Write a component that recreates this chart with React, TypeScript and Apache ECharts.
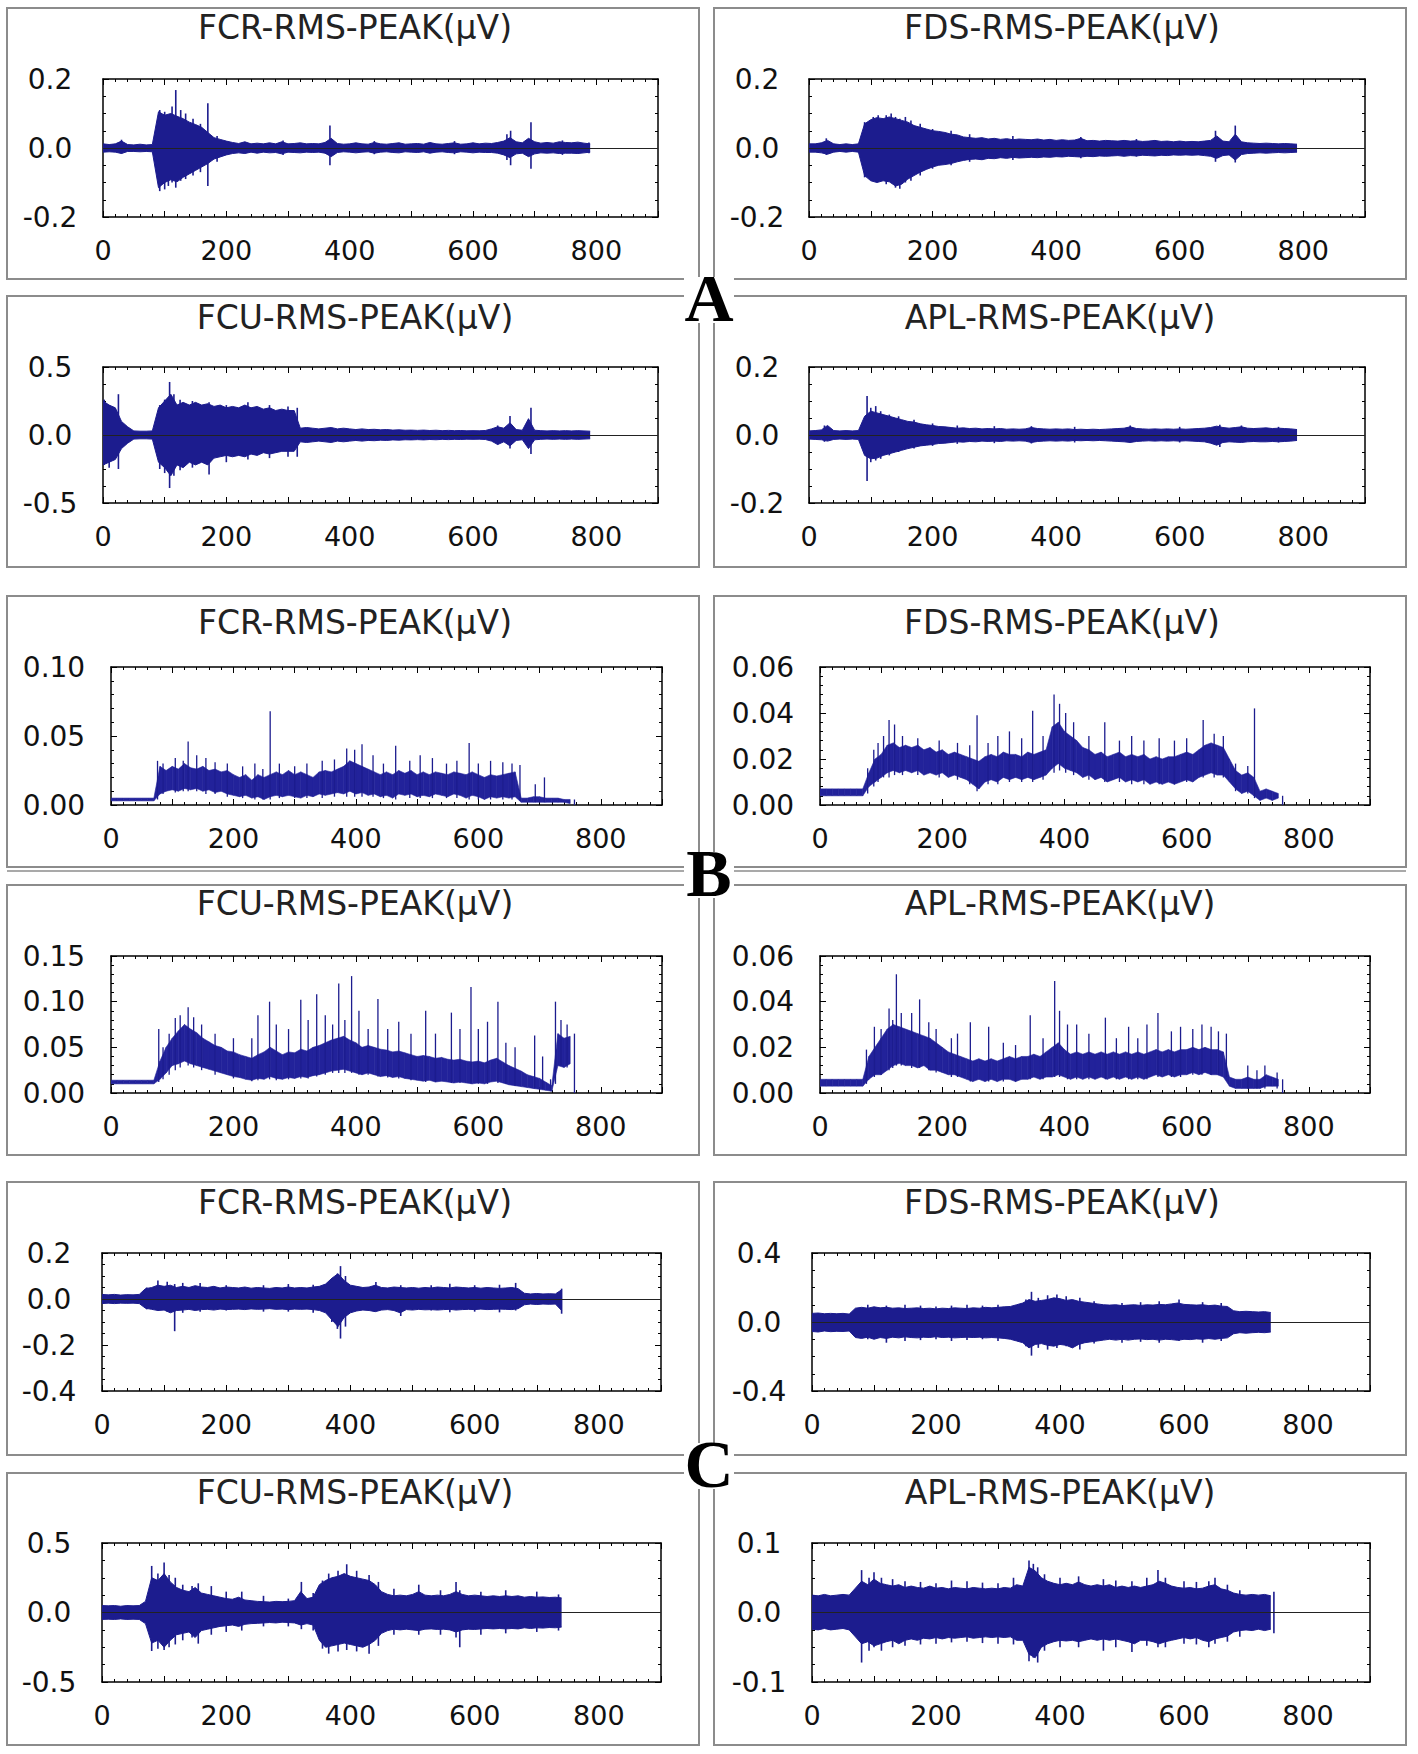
import React, { useEffect, useRef } from 'react';
import * as echarts from 'echarts';

const STEP = 10;
const X_MAX = 900;
const NAVY = '#1c1c8e';

const TITLES = ['FCR-RMS-PEAK(μV)', 'FDS-RMS-PEAK(μV)', 'FCU-RMS-PEAK(μV)', 'APL-RMS-PEAK(μV)'];
const GROUP_LETTERS = ['A', 'B', 'C'];
const X_TICK_LABELS = [0, 200, 400, 600, 800];

// ---- A : FCR ----
const FCR_A_UP = [0.012,0.010,0.012,0.020,0.010,0.009,0.011,0.009,0.010,0.105,0.095,0.100,0.092,0.085,0.075,0.068,0.060,0.045,0.030,0.025,0.020,0.016,0.013,0.018,0.012,0.014,0.012,0.015,0.012,0.018,0.012,0.013,0.015,0.012,0.013,0.012,0.016,0.028,0.013,0.011,0.012,0.015,0.012,0.011,0.016,0.012,0.011,0.013,0.015,0.011,0.012,0.013,0.011,0.016,0.012,0.011,0.013,0.015,0.011,0.012,0.015,0.012,0.014,0.013,0.016,0.020,0.030,0.018,0.015,0.028,0.018,0.014,0.016,0.014,0.018,0.016,0.015,0.017,0.014,0.012];
const FCR_A_LO = [-0.012,-0.011,-0.012,-0.016,-0.010,-0.010,-0.011,-0.010,-0.011,-0.115,-0.100,-0.092,-0.098,-0.085,-0.075,-0.065,-0.055,-0.045,-0.032,-0.026,-0.020,-0.016,-0.014,-0.016,-0.012,-0.015,-0.012,-0.014,-0.013,-0.017,-0.012,-0.013,-0.014,-0.012,-0.013,-0.012,-0.015,-0.025,-0.013,-0.011,-0.012,-0.014,-0.012,-0.011,-0.015,-0.012,-0.011,-0.013,-0.014,-0.011,-0.012,-0.013,-0.011,-0.015,-0.012,-0.011,-0.013,-0.014,-0.011,-0.012,-0.014,-0.012,-0.013,-0.013,-0.015,-0.020,-0.028,-0.017,-0.015,-0.025,-0.017,-0.014,-0.015,-0.014,-0.016,-0.015,-0.015,-0.016,-0.014,-0.012];
const FCR_A_SPK = [[30,-0.016,0.024],[92,-0.125,0.11],[100,-0.12,0.105],[106,-0.11,0.095],[112,-0.10,0.12],[118,-0.115,0.168],[126,-0.095,0.11],[134,-0.09,0.10],[146,-0.08,0.085],[158,-0.07,0.07],[170,-0.11,0.13],[185,-0.04,0.035],[292,-0.02,0.022],[368,-0.05,0.065],[440,-0.018,0.02],[570,-0.018,0.02],[655,-0.035,0.04],[661,-0.05,0.05],[694,-0.06,0.075],[745,-0.02,0.022],[788,-0.015,0.016]];

// ---- A : FDS ----
const FDS_A_UP = [0.012,0.012,0.015,0.022,0.012,0.010,0.012,0.010,0.012,0.070,0.082,0.088,0.085,0.090,0.085,0.080,0.075,0.065,0.060,0.055,0.050,0.048,0.045,0.040,0.038,0.032,0.030,0.028,0.030,0.026,0.028,0.025,0.027,0.024,0.026,0.025,0.024,0.026,0.023,0.025,0.022,0.024,0.022,0.023,0.028,0.021,0.022,0.020,0.022,0.021,0.020,0.022,0.020,0.021,0.019,0.020,0.022,0.019,0.020,0.018,0.020,0.018,0.019,0.018,0.020,0.022,0.035,0.020,0.018,0.040,0.018,0.015,0.014,0.013,0.014,0.013,0.012,0.013,0.012,0.011];
const FDS_A_LO = [-0.012,-0.012,-0.014,-0.018,-0.012,-0.010,-0.012,-0.010,-0.012,-0.080,-0.095,-0.100,-0.095,-0.098,-0.110,-0.105,-0.090,-0.080,-0.070,-0.062,-0.055,-0.050,-0.048,-0.045,-0.040,-0.036,-0.033,-0.032,-0.034,-0.030,-0.031,-0.028,-0.030,-0.027,-0.029,-0.028,-0.027,-0.028,-0.026,-0.027,-0.025,-0.026,-0.024,-0.025,-0.026,-0.024,-0.025,-0.023,-0.024,-0.023,-0.022,-0.024,-0.022,-0.023,-0.021,-0.022,-0.023,-0.021,-0.022,-0.020,-0.021,-0.020,-0.021,-0.020,-0.022,-0.024,-0.030,-0.022,-0.020,-0.035,-0.019,-0.016,-0.015,-0.014,-0.015,-0.014,-0.013,-0.014,-0.013,-0.012];
const FDS_A_SPK = [[28,-0.02,0.028],[90,-0.085,0.075],[104,-0.09,0.09],[112,-0.09,0.095],[125,-0.105,0.095],[133,-0.095,0.1],[140,-0.115,0.09],[147,-0.118,0.085],[156,-0.1,0.09],[165,-0.095,0.08],[180,-0.08,0.07],[200,-0.06,0.055],[230,-0.05,0.05],[260,-0.04,0.04],[330,-0.035,0.035],[440,-0.03,0.032],[530,-0.025,0.026],[658,-0.04,0.05],[690,-0.042,0.065]];

// ---- A : FCU ----
const FCU_A_UP = [0.25,0.22,0.20,0.10,0.06,0.030,0.028,0.028,0.030,0.20,0.25,0.30,0.22,0.24,0.22,0.24,0.22,0.23,0.21,0.22,0.20,0.21,0.20,0.22,0.20,0.21,0.19,0.20,0.18,0.19,0.18,0.18,0.05,0.055,0.05,0.045,0.05,0.055,0.045,0.05,0.045,0.04,0.045,0.04,0.042,0.038,0.04,0.036,0.038,0.035,0.036,0.034,0.036,0.033,0.035,0.032,0.034,0.032,0.033,0.031,0.032,0.031,0.033,0.045,0.06,0.05,0.09,0.04,0.035,0.12,0.035,0.032,0.030,0.032,0.030,0.032,0.030,0.032,0.030,0.028];
const FCU_A_LO = [-0.22,-0.20,-0.18,-0.10,-0.06,-0.030,-0.028,-0.028,-0.030,-0.20,-0.24,-0.30,-0.22,-0.24,-0.20,-0.22,-0.20,-0.22,-0.17,-0.16,-0.15,-0.16,-0.15,-0.16,-0.14,-0.15,-0.13,-0.14,-0.13,-0.12,-0.12,-0.12,-0.05,-0.055,-0.05,-0.045,-0.05,-0.055,-0.045,-0.05,-0.045,-0.04,-0.045,-0.04,-0.042,-0.038,-0.04,-0.036,-0.038,-0.035,-0.036,-0.034,-0.036,-0.033,-0.035,-0.032,-0.034,-0.032,-0.033,-0.031,-0.032,-0.031,-0.033,-0.045,-0.07,-0.05,-0.08,-0.04,-0.035,-0.10,-0.035,-0.032,-0.030,-0.032,-0.030,-0.032,-0.030,-0.032,-0.030,-0.028];
const FCU_A_SPK = [[2,-0.22,0.26],[10,-0.24,0.22],[25,-0.25,0.30],[92,-0.25,0.22],[100,-0.28,0.26],[108,-0.39,0.39],[115,-0.30,0.30],[125,-0.26,0.26],[145,-0.24,0.25],[172,-0.29,0.24],[200,-0.20,0.22],[235,-0.18,0.24],[270,-0.17,0.22],[300,-0.16,0.21],[315,-0.16,0.20],[640,-0.07,0.07],[660,-0.10,0.14],[694,-0.14,0.20]];

// ---- A : APL ----
const APL_A_UP = [0.012,0.013,0.015,0.028,0.013,0.012,0.013,0.012,0.013,0.055,0.070,0.065,0.060,0.055,0.050,0.045,0.040,0.038,0.033,0.030,0.028,0.025,0.024,0.022,0.020,0.021,0.019,0.020,0.018,0.019,0.018,0.019,0.017,0.018,0.017,0.018,0.022,0.019,0.018,0.017,0.018,0.017,0.018,0.016,0.017,0.016,0.017,0.016,0.017,0.018,0.019,0.020,0.024,0.019,0.018,0.017,0.018,0.017,0.018,0.017,0.018,0.017,0.018,0.019,0.020,0.022,0.026,0.022,0.020,0.022,0.024,0.020,0.019,0.020,0.021,0.019,0.020,0.019,0.018,0.016];
const APL_A_LO = [-0.012,-0.013,-0.014,-0.018,-0.013,-0.012,-0.013,-0.012,-0.013,-0.060,-0.070,-0.068,-0.060,-0.055,-0.050,-0.045,-0.040,-0.036,-0.032,-0.030,-0.028,-0.025,-0.024,-0.022,-0.020,-0.021,-0.019,-0.020,-0.018,-0.019,-0.018,-0.019,-0.017,-0.018,-0.017,-0.018,-0.022,-0.019,-0.018,-0.017,-0.018,-0.017,-0.018,-0.016,-0.017,-0.016,-0.017,-0.016,-0.017,-0.018,-0.019,-0.020,-0.022,-0.019,-0.018,-0.017,-0.018,-0.017,-0.018,-0.017,-0.018,-0.017,-0.018,-0.019,-0.020,-0.024,-0.030,-0.022,-0.020,-0.021,-0.022,-0.020,-0.019,-0.020,-0.020,-0.019,-0.020,-0.019,-0.018,-0.016];
const APL_A_SPK = [[25,-0.02,0.028],[94,-0.135,0.115],[100,-0.08,0.08],[108,-0.075,0.085],[116,-0.07,0.07],[130,-0.06,0.06],[145,-0.05,0.055],[170,-0.04,0.045],[200,-0.032,0.034],[240,-0.026,0.028],[300,-0.024,0.026],[360,-0.025,0.026],[430,-0.022,0.024],[520,-0.022,0.028],[600,-0.022,0.024],[665,-0.035,0.03],[700,-0.02,0.028],[760,-0.022,0.024]];

// ---- B : FCR ----
const FCR_B_LO = [0.003,0.003,0.003,0.003,0.003,0.003,0.003,0.003,0.008,0.010,0.011,0.010,0.012,0.011,0.012,0.010,0.011,0.009,0.010,0.008,0.007,0.006,0.007,0.005,0.006,0.004,0.006,0.007,0.006,0.007,0.006,0.005,0.007,0.006,0.008,0.007,0.008,0.009,0.008,0.010,0.008,0.009,0.007,0.008,0.006,0.007,0.005,0.008,0.007,0.008,0.006,0.007,0.006,0.008,0.007,0.006,0.008,0.007,0.005,0.007,0.006,0.004,0.006,0.005,0.006,0.005,0.006,0.002,0.002,0.002,0.002,0.002,0.002,0.002,0.002,0.001];
const FCR_B_UP = [0.005,0.005,0.005,0.005,0.005,0.005,0.005,0.005,0.028,0.025,0.028,0.026,0.030,0.027,0.026,0.028,0.025,0.026,0.024,0.025,0.022,0.020,0.022,0.018,0.022,0.020,0.022,0.024,0.022,0.025,0.022,0.024,0.022,0.020,0.024,0.025,0.024,0.026,0.028,0.032,0.030,0.028,0.026,0.024,0.022,0.024,0.022,0.025,0.023,0.025,0.022,0.024,0.022,0.024,0.023,0.022,0.024,0.023,0.022,0.024,0.022,0.020,0.022,0.021,0.022,0.023,0.024,0.005,0.005,0.006,0.006,0.005,0.005,0.005,0.004,0.004];
const FCR_B_SPK = [[76,0.004,0.032],[85,0.008,0.030],[105,0.009,0.034],[118,0.01,0.032],[126,0.01,0.046],[140,0.01,0.036],[155,0.008,0.034],[170,0.008,0.031],[190,0.006,0.030],[215,0.005,0.028],[235,0.004,0.030],[248,0.004,0.026],[260,0.004,0.068],[275,0.005,0.030],[300,0.005,0.028],[320,0.005,0.030],[345,0.005,0.032],[365,0.006,0.033],[385,0.006,0.041],[398,0.006,0.040],[410,0.006,0.044],[428,0.006,0.036],[445,0.005,0.030],[465,0.004,0.043],[488,0.005,0.032],[505,0.005,0.036],[525,0.005,0.034],[548,0.005,0.030],[565,0.005,0.032],[585,0.004,0.045],[600,0.004,0.030],[620,0.004,0.032],[640,0.004,0.031],[655,0.004,0.030],[668,0.003,0.029],[693,0.002,0.015],[708,0.002,0.020],[757,0,0.004]];

// ---- B : FDS ----
const FDS_B_LO = [0.004,0.004,0.004,0.004,0.004,0.004,0.004,0.004,0.008,0.010,0.012,0.014,0.015,0.014,0.015,0.014,0.015,0.013,0.014,0.013,0.014,0.012,0.013,0.012,0.011,0.009,0.007,0.010,0.011,0.010,0.012,0.011,0.012,0.011,0.012,0.011,0.012,0.013,0.016,0.018,0.016,0.015,0.014,0.012,0.013,0.011,0.012,0.010,0.011,0.012,0.010,0.011,0.010,0.011,0.009,0.010,0.009,0.010,0.009,0.010,0.011,0.010,0.012,0.013,0.014,0.013,0.013,0.010,0.007,0.005,0.006,0.004,0.002,0.003,0.002,0.003];
const FDS_B_UP = [0.007,0.007,0.007,0.007,0.007,0.007,0.007,0.007,0.014,0.020,0.022,0.026,0.027,0.025,0.026,0.025,0.026,0.024,0.025,0.023,0.024,0.022,0.023,0.022,0.021,0.020,0.019,0.021,0.022,0.021,0.023,0.022,0.022,0.021,0.023,0.022,0.023,0.024,0.034,0.036,0.032,0.030,0.028,0.025,0.024,0.022,0.023,0.021,0.022,0.023,0.021,0.022,0.021,0.022,0.020,0.021,0.020,0.021,0.021,0.022,0.023,0.022,0.024,0.026,0.027,0.026,0.025,0.020,0.015,0.013,0.014,0.012,0.006,0.007,0.006,0.005];
const FDS_B_SPK = [[78,0.005,0.016],[88,0.008,0.024],[95,0.01,0.027],[104,0.012,0.030],[113,0.012,0.037],[122,0.013,0.035],[135,0.013,0.030],[160,0.013,0.029],[195,0.012,0.028],[225,0.011,0.027],[245,0.009,0.026],[257,0.006,0.039],[275,0.009,0.027],[291,0.009,0.030],[310,0.01,0.032],[330,0.01,0.029],[348,0.01,0.041],[365,0.011,0.030],[383,0.014,0.048],[392,0.015,0.044],[402,0.014,0.040],[415,0.013,0.036],[440,0.011,0.030],[466,0.01,0.036],[490,0.01,0.028],[510,0.009,0.030],[530,0.009,0.028],[555,0.009,0.029],[580,0.009,0.028],[600,0.01,0.029],[627,0.012,0.037],[645,0.012,0.031],[660,0.012,0.030],[680,0.006,0.018],[700,0.005,0.017],[711,0.003,0.042],[757,0,0.004]];

// ---- B : FCU ----
const FCU_B_LO = [0.010,0.010,0.010,0.010,0.010,0.010,0.010,0.010,0.015,0.022,0.030,0.032,0.035,0.032,0.030,0.028,0.026,0.024,0.022,0.020,0.018,0.017,0.015,0.014,0.016,0.015,0.018,0.016,0.015,0.017,0.016,0.018,0.017,0.019,0.020,0.022,0.024,0.025,0.026,0.024,0.022,0.020,0.022,0.020,0.018,0.019,0.017,0.018,0.016,0.015,0.014,0.013,0.014,0.012,0.013,0.012,0.011,0.012,0.011,0.010,0.011,0.010,0.012,0.013,0.011,0.009,0.008,0.007,0.006,0.005,0.004,0.003,0.002,0.030,0.028,0.032];
const FCU_B_UP = [0.014,0.014,0.014,0.014,0.014,0.014,0.014,0.014,0.035,0.050,0.060,0.068,0.075,0.070,0.066,0.060,0.056,0.052,0.050,0.046,0.045,0.042,0.040,0.038,0.042,0.045,0.050,0.046,0.042,0.045,0.044,0.048,0.046,0.050,0.052,0.055,0.058,0.060,0.062,0.058,0.055,0.050,0.052,0.050,0.048,0.047,0.045,0.046,0.044,0.042,0.040,0.041,0.040,0.038,0.039,0.037,0.036,0.037,0.035,0.034,0.035,0.033,0.036,0.038,0.034,0.030,0.027,0.024,0.020,0.018,0.016,0.012,0.008,0.065,0.060,0.062];
const FCU_B_SPK = [[78,0.012,0.070],[85,0.015,0.050],[95,0.02,0.065],[105,0.025,0.082],[113,0.028,0.085],[126,0.03,0.094],[135,0.028,0.083],[148,0.025,0.075],[170,0.02,0.065],[200,0.016,0.060],[230,0.013,0.060],[240,0.014,0.085],[259,0.015,0.100],[270,0.014,0.075],[290,0.015,0.070],[310,0.016,0.102],[322,0.016,0.080],[336,0.018,0.108],[350,0.02,0.085],[362,0.022,0.075],[372,0.022,0.120],[382,0.022,0.080],[393,0.022,0.128],[405,0.02,0.090],[420,0.02,0.070],[436,0.018,0.103],[452,0.017,0.070],[470,0.016,0.078],[490,0.014,0.065],[514,0.012,0.090],[530,0.012,0.065],[556,0.011,0.088],[570,0.011,0.070],[588,0.01,0.116],[600,0.01,0.070],[615,0.01,0.078],[632,0.011,0.100],[645,0.01,0.055],[660,0.008,0.050],[692,0.005,0.063],[705,0.004,0.040],[718,0.002,0.015],[726,0.01,0.100],[735,0.03,0.080],[745,0.028,0.075],[757,0,0.065]];

// ---- B : APL ----
const APL_B_LO = [0.003,0.003,0.003,0.003,0.003,0.003,0.003,0.003,0.006,0.008,0.008,0.010,0.012,0.013,0.012,0.012,0.011,0.012,0.010,0.010,0.009,0.008,0.008,0.007,0.006,0.005,0.006,0.005,0.006,0.005,0.006,0.006,0.005,0.006,0.006,0.007,0.006,0.007,0.007,0.008,0.007,0.006,0.007,0.006,0.007,0.006,0.007,0.006,0.007,0.006,0.007,0.006,0.007,0.006,0.007,0.008,0.007,0.008,0.007,0.008,0.008,0.009,0.008,0.009,0.008,0.008,0.007,0.003,0.002,0.002,0.002,0.002,0.002,0.003,0.003,0.003];
const APL_B_UP = [0.006,0.006,0.006,0.006,0.006,0.006,0.006,0.006,0.016,0.020,0.024,0.028,0.030,0.029,0.028,0.027,0.026,0.025,0.024,0.022,0.020,0.018,0.017,0.016,0.015,0.014,0.015,0.014,0.015,0.014,0.015,0.016,0.015,0.016,0.016,0.017,0.016,0.018,0.020,0.022,0.019,0.017,0.018,0.017,0.018,0.017,0.018,0.017,0.018,0.017,0.018,0.017,0.018,0.017,0.018,0.019,0.018,0.019,0.018,0.019,0.019,0.020,0.019,0.020,0.019,0.019,0.018,0.007,0.006,0.006,0.007,0.006,0.006,0.008,0.007,0.006];
const APL_B_SPK = [[76,0.004,0.019],[89,0.007,0.029],[100,0.008,0.028],[113,0.01,0.037],[119,0.011,0.032],[125,0.012,0.052],[133,0.012,0.035],[150,0.011,0.035],[163,0.011,0.041],[178,0.01,0.031],[190,0.009,0.028],[215,0.007,0.024],[225,0.007,0.026],[246,0.005,0.031],[276,0.005,0.029],[300,0.005,0.022],[320,0.005,0.021],[344,0.006,0.034],[365,0.006,0.024],[384,0.007,0.049],[392,0.007,0.036],[405,0.006,0.030],[420,0.006,0.030],[440,0.006,0.026],[467,0.006,0.033],[485,0.006,0.024],[505,0.006,0.029],[520,0.006,0.024],[535,0.006,0.030],[553,0.007,0.035],[575,0.007,0.027],[590,0.007,0.029],[610,0.008,0.028],[625,0.008,0.030],[640,0.008,0.029],[652,0.008,0.027],[665,0.007,0.026],[700,0.002,0.012],[715,0.002,0.010],[728,0.002,0.012],[748,0.002,0.009],[757,0,0.006]];

// ---- C : FCR ----
const FCR_C_UP = [0.020,0.018,0.020,0.017,0.019,0.018,0.020,0.045,0.050,0.060,0.055,0.060,0.050,0.055,0.050,0.058,0.052,0.050,0.055,0.048,0.052,0.050,0.048,0.052,0.047,0.050,0.048,0.046,0.050,0.048,0.052,0.048,0.050,0.048,0.052,0.055,0.065,0.090,0.110,0.080,0.060,0.055,0.050,0.052,0.060,0.050,0.048,0.052,0.050,0.048,0.050,0.047,0.050,0.048,0.052,0.050,0.048,0.052,0.050,0.048,0.050,0.047,0.050,0.048,0.046,0.048,0.050,0.045,0.025,0.022,0.024,0.022,0.023,0.022,0.040];
const FCR_C_LO = [-0.020,-0.018,-0.020,-0.018,-0.019,-0.018,-0.020,-0.040,-0.045,-0.050,-0.048,-0.060,-0.050,-0.048,-0.045,-0.050,-0.046,-0.045,-0.048,-0.044,-0.046,-0.045,-0.044,-0.046,-0.043,-0.045,-0.044,-0.042,-0.045,-0.044,-0.046,-0.044,-0.045,-0.044,-0.046,-0.050,-0.060,-0.090,-0.120,-0.080,-0.060,-0.052,-0.048,-0.050,-0.055,-0.048,-0.046,-0.050,-0.060,-0.046,-0.048,-0.045,-0.047,-0.046,-0.048,-0.046,-0.045,-0.048,-0.046,-0.045,-0.046,-0.044,-0.046,-0.045,-0.044,-0.045,-0.046,-0.042,-0.025,-0.022,-0.024,-0.022,-0.023,-0.022,-0.050];
const FCR_C_SPK = [[72,-0.045,0.05],[90,-0.05,0.08],[105,-0.055,0.075],[117,-0.14,0.065],[130,-0.06,0.07],[158,-0.055,0.07],[200,-0.05,0.06],[260,-0.055,0.06],[300,-0.055,0.065],[340,-0.06,0.062],[370,-0.10,0.09],[379,-0.13,0.11],[384,-0.172,0.143],[392,-0.12,0.10],[441,-0.05,0.074],[481,-0.074,0.06],[530,-0.05,0.06],[560,-0.058,0.066],[600,-0.055,0.06],[640,-0.058,0.062],[666,-0.05,0.07],[740,-0.064,0.045]];

// ---- C : FDS ----
const FDS_C_UP = [0.050,0.052,0.048,0.050,0.048,0.050,0.046,0.080,0.085,0.080,0.088,0.082,0.085,0.080,0.082,0.078,0.080,0.082,0.078,0.080,0.076,0.080,0.078,0.082,0.080,0.078,0.082,0.080,0.085,0.082,0.085,0.088,0.090,0.100,0.110,0.130,0.120,0.125,0.130,0.140,0.135,0.125,0.130,0.120,0.115,0.110,0.105,0.100,0.098,0.100,0.095,0.098,0.100,0.096,0.100,0.098,0.102,0.100,0.105,0.110,0.102,0.100,0.098,0.100,0.095,0.098,0.092,0.090,0.065,0.060,0.062,0.060,0.058,0.060,0.055];
const FDS_C_LO = [-0.055,-0.058,-0.052,-0.056,-0.054,-0.055,-0.052,-0.090,-0.095,-0.088,-0.100,-0.090,-0.095,-0.088,-0.092,-0.086,-0.090,-0.092,-0.088,-0.090,-0.085,-0.090,-0.088,-0.092,-0.090,-0.088,-0.090,-0.088,-0.092,-0.090,-0.092,-0.095,-0.100,-0.110,-0.120,-0.150,-0.130,-0.125,-0.135,-0.140,-0.130,-0.135,-0.150,-0.130,-0.120,-0.115,-0.110,-0.105,-0.100,-0.105,-0.100,-0.105,-0.100,-0.098,-0.102,-0.100,-0.105,-0.100,-0.102,-0.106,-0.100,-0.102,-0.098,-0.100,-0.096,-0.100,-0.095,-0.092,-0.068,-0.062,-0.065,-0.062,-0.060,-0.062,-0.058];
const FDS_C_SPK = [[90,-0.10,0.10],[120,-0.12,0.095],[150,-0.11,0.10],[175,-0.105,0.095],[200,-0.10,0.09],[225,-0.11,0.095],[250,-0.105,0.10],[275,-0.1,0.095],[300,-0.11,0.10],[345,-0.14,0.13],[354,-0.195,0.175],[365,-0.15,0.14],[380,-0.16,0.155],[395,-0.15,0.16],[410,-0.14,0.15],[432,-0.16,0.14],[455,-0.125,0.12],[500,-0.12,0.11],[530,-0.115,0.115],[560,-0.12,0.12],[592,-0.11,0.13],[630,-0.12,0.115],[660,-0.11,0.11]];

// ---- C : FCU ----
const FCU_C_UP = [0.050,0.048,0.050,0.045,0.050,0.048,0.050,0.080,0.250,0.230,0.280,0.220,0.180,0.160,0.150,0.180,0.140,0.130,0.120,0.110,0.100,0.095,0.110,0.090,0.085,0.080,0.078,0.075,0.080,0.078,0.080,0.085,0.150,0.100,0.110,0.200,0.230,0.250,0.260,0.280,0.260,0.250,0.240,0.230,0.200,0.150,0.130,0.120,0.125,0.120,0.130,0.150,0.125,0.120,0.125,0.120,0.130,0.150,0.130,0.120,0.125,0.120,0.115,0.120,0.115,0.120,0.115,0.120,0.110,0.115,0.110,0.112,0.108,0.110,0.105];
const FCU_C_LO = [-0.050,-0.048,-0.050,-0.046,-0.050,-0.048,-0.050,-0.080,-0.220,-0.200,-0.250,-0.200,-0.160,-0.150,-0.140,-0.180,-0.130,-0.120,-0.110,-0.100,-0.095,-0.090,-0.100,-0.085,-0.080,-0.078,-0.075,-0.072,-0.075,-0.070,-0.072,-0.075,-0.090,-0.080,-0.090,-0.200,-0.250,-0.240,-0.230,-0.220,-0.230,-0.240,-0.250,-0.230,-0.200,-0.150,-0.130,-0.120,-0.125,-0.120,-0.125,-0.130,-0.120,-0.118,-0.122,-0.120,-0.125,-0.140,-0.125,-0.120,-0.122,-0.118,-0.115,-0.118,-0.115,-0.118,-0.115,-0.118,-0.110,-0.115,-0.110,-0.112,-0.108,-0.110,-0.105];
const FCU_C_SPK = [[80,-0.277,0.335],[90,-0.26,0.28],[100,-0.27,0.36],[108,-0.25,0.27],[118,-0.23,0.25],[130,-0.2,0.2],[145,-0.18,0.19],[155,-0.224,0.21],[176,-0.16,0.19],[200,-0.14,0.15],[225,-0.13,0.15],[260,-0.1,0.12],[300,-0.1,0.1],[321,-0.12,0.22],[340,-0.13,0.14],[355,-0.26,0.23],[365,-0.296,0.28],[380,-0.28,0.30],[394,-0.27,0.347],[410,-0.28,0.3],[430,-0.296,0.27],[445,-0.24,0.22],[470,-0.16,0.17],[510,-0.16,0.2],[545,-0.16,0.16],[570,-0.18,0.22],[576,-0.25,0.16],[610,-0.16,0.15],[650,-0.15,0.16],[700,-0.14,0.15],[735,-0.13,0.13]];

// ---- C : APL ----
const APL_C_UP = [0.025,0.024,0.026,0.024,0.025,0.026,0.025,0.035,0.045,0.040,0.048,0.042,0.040,0.038,0.040,0.036,0.038,0.036,0.035,0.038,0.035,0.036,0.034,0.036,0.035,0.034,0.036,0.035,0.034,0.035,0.034,0.036,0.035,0.040,0.038,0.065,0.060,0.050,0.045,0.042,0.040,0.042,0.040,0.044,0.040,0.038,0.040,0.038,0.040,0.036,0.038,0.036,0.038,0.036,0.038,0.040,0.045,0.042,0.038,0.036,0.035,0.036,0.034,0.035,0.038,0.040,0.034,0.032,0.028,0.026,0.025,0.026,0.025,0.026,0.024];
const APL_C_LO = [-0.024,-0.025,-0.023,-0.025,-0.024,-0.023,-0.025,-0.035,-0.045,-0.042,-0.048,-0.045,-0.042,-0.040,-0.045,-0.040,-0.038,-0.040,-0.037,-0.038,-0.036,-0.038,-0.036,-0.037,-0.036,-0.035,-0.037,-0.036,-0.035,-0.036,-0.035,-0.036,-0.035,-0.040,-0.040,-0.060,-0.065,-0.050,-0.045,-0.042,-0.040,-0.041,-0.040,-0.042,-0.040,-0.038,-0.040,-0.038,-0.040,-0.038,-0.040,-0.042,-0.045,-0.040,-0.040,-0.042,-0.045,-0.042,-0.040,-0.038,-0.036,-0.038,-0.036,-0.040,-0.042,-0.038,-0.036,-0.034,-0.028,-0.026,-0.025,-0.026,-0.024,-0.026,-0.024];
const APL_C_SPK = [[80,-0.072,0.061],[92,-0.055,0.05],[100,-0.05,0.058],[112,-0.055,0.05],[130,-0.05,0.048],[150,-0.048,0.045],[175,-0.046,0.044],[200,-0.045,0.042],[225,-0.043,0.046],[250,-0.042,0.045],[275,-0.044,0.043],[300,-0.045,0.042],[325,-0.046,0.05],[350,-0.07,0.075],[357,-0.065,0.07],[364,-0.072,0.065],[375,-0.055,0.055],[400,-0.05,0.05],[430,-0.05,0.052],[470,-0.055,0.048],[490,-0.05,0.046],[516,-0.057,0.045],[540,-0.048,0.05],[558,-0.05,0.061],[570,-0.05,0.05],[600,-0.045,0.045],[620,-0.046,0.044],[640,-0.05,0.045],[650,-0.045,0.05],[670,-0.042,0.04],[690,-0.035,0.032],[745,-0.03,0.03]];

// y-axis ranges per panel: [min, max, interval, decimals]
const Y_AXES = [
  [-0.2, 0.2, 0.2, 1], [-0.2, 0.2, 0.2, 1], [-0.5, 0.5, 0.5, 1], [-0.2, 0.2, 0.2, 1],
  [0, 0.1, 0.05, 2], [0, 0.06, 0.02, 2], [0, 0.15, 0.05, 2], [0, 0.06, 0.02, 2],
  [-0.4, 0.2, 0.2, 1], [-0.4, 0.4, 0.4, 1], [-0.5, 0.5, 0.5, 1], [-0.1, 0.1, 0.1, 1],
];

// ---------- layout ----------
type Lay = { left: number; top: number; width: number; height: number; margin: number; tx: number; ty: number };
const LAYOUT: Lay[] = [
  { left: 103, top: 79, width: 555, height: 138, margin: 53, tx: 355, ty: 27 },
  { left: 809, top: 79, width: 556, height: 138, margin: 52, tx: 1062, ty: 27 },
  { left: 103, top: 367, width: 555, height: 136, margin: 53, tx: 355, ty: 317 },
  { left: 809, top: 367, width: 556, height: 136, margin: 52, tx: 1060, ty: 317 },
  { left: 111, top: 667, width: 551, height: 138, margin: 57, tx: 355, ty: 622 },
  { left: 820, top: 667, width: 550, height: 138, margin: 57, tx: 1062, ty: 622 },
  { left: 111, top: 956, width: 551, height: 137, margin: 57, tx: 355, ty: 903 },
  { left: 820, top: 956, width: 550, height: 137, margin: 57, tx: 1060, ty: 903 },
  { left: 102, top: 1253, width: 559, height: 138, margin: 53, tx: 355, ty: 1202 },
  { left: 812, top: 1253, width: 558, height: 138, margin: 53, tx: 1062, ty: 1202 },
  { left: 102, top: 1543, width: 559, height: 139, margin: 53, tx: 355, ty: 1492 },
  { left: 812, top: 1543, width: 558, height: 139, margin: 53, tx: 1060, ty: 1492 },
];
const BOX_ROWS = [[8, 279], [296, 567], [596, 867], [885, 1155], [1182, 1455], [1473, 1745]];
const BOX_COLS = [[7, 699], [714, 1406]];
const LETTER_POS = [[709, 298], [709, 873], [709, 1464]];

const PANEL_DATA: { up: number[]; lo: number[]; spk: number[][]; rms: boolean }[] = [
  { up: FCR_A_UP, lo: FCR_A_LO, spk: FCR_A_SPK, rms: false },
  { up: FDS_A_UP, lo: FDS_A_LO, spk: FDS_A_SPK, rms: false },
  { up: FCU_A_UP, lo: FCU_A_LO, spk: FCU_A_SPK, rms: false },
  { up: APL_A_UP, lo: APL_A_LO, spk: APL_A_SPK, rms: false },
  { up: FCR_B_UP, lo: FCR_B_LO, spk: FCR_B_SPK, rms: true },
  { up: FDS_B_UP, lo: FDS_B_LO, spk: FDS_B_SPK, rms: true },
  { up: FCU_B_UP, lo: FCU_B_LO, spk: FCU_B_SPK, rms: true },
  { up: APL_B_UP, lo: APL_B_LO, spk: APL_B_SPK, rms: true },
  { up: FCR_C_UP, lo: FCR_C_LO, spk: FCR_C_SPK, rms: false },
  { up: FDS_C_UP, lo: FDS_C_LO, spk: FDS_C_SPK, rms: false },
  { up: FCU_C_UP, lo: FCU_C_LO, spk: FCU_C_SPK, rms: false },
  { up: APL_C_UP, lo: APL_C_LO, spk: APL_C_SPK, rms: false },
];

const FONT = '"DejaVu Sans", "Liberation Sans", Arial, sans-serif';

function buildOption() {
  const grid: any[] = [];
  const xAxis: any[] = [];
  const yAxis: any[] = [];
  const series: any[] = [];
  const graphic: any[] = [];

  // panel boxes
  BOX_ROWS.forEach(([t, b]) => {
    BOX_COLS.forEach(([l, r]) => {
      graphic.push({
        type: 'rect', silent: true, z: 0,
        shape: { x: l, y: t, width: r - l, height: b - t },
        style: { fill: 'none', stroke: '#8c8c8c', lineWidth: 2 },
      });
    });
  });
  graphic.push({ type: 'line', silent: true, shape: { x1: 7, y1: 871, x2: 1406, y2: 871 }, style: { stroke: '#8c8c8c', lineWidth: 1.5 } });

  const tickLine = { color: '#000', width: 1 };

  LAYOUT.forEach((L, i) => {
    const [ymin, ymax, yint, dec] = Y_AXES[i];
    const d = PANEL_DATA[i];
    grid.push({ left: L.left, top: L.top, width: L.width, height: L.height, containLabel: false });

    const xCommon = {
      type: 'value', gridIndex: i, min: 0, max: X_MAX, interval: 100,
      splitLine: { show: false }, minorSplitLine: { show: false },
      axisLine: { show: true, onZero: false, lineStyle: { color: '#000', width: 1.5 } },
      axisTick: { show: true, inside: true, length: 6, lineStyle: tickLine },
      minorTick: { show: true, splitNumber: 5, length: 3, lineStyle: tickLine },
    };
    xAxis.push({
      ...xCommon, position: 'bottom',
      axisLabel: {
        show: true, margin: 20, fontSize: 27, fontFamily: FONT, color: '#111',
        formatter: (v: number) => (X_TICK_LABELS.indexOf(Math.round(v)) >= 0 ? String(Math.round(v)) : ''),
      },
    });
    xAxis.push({ ...xCommon, position: 'top', axisLabel: { show: false } });

    const yCommon = {
      type: 'value', gridIndex: i, min: ymin, max: ymax, interval: yint,
      splitLine: { show: false }, minorSplitLine: { show: false },
      axisLine: { show: true, onZero: false, lineStyle: { color: '#000', width: 1.5 } },
      axisTick: { show: true, inside: true, length: 6, lineStyle: tickLine },
      minorTick: { show: true, splitNumber: d.rms ? 5 : 4, length: 3, lineStyle: tickLine },
    };
    yAxis.push({
      ...yCommon, position: 'left',
      axisLabel: {
        show: true, margin: L.margin, align: 'center', fontSize: 28, fontFamily: FONT, color: '#111',
        formatter: (v: number) => (Math.abs(v) < 1e-9 ? 0 : v).toFixed(dec),
      },
    });
    yAxis.push({ ...yCommon, position: 'right', axisLabel: { show: false } });

    const xi = 2 * i;
    const yi = 2 * i;

    if (d.rms) {
      // band between lower and upper envelope, drawn segment by segment
      const up = d.up;
      const lo = d.lo;
      series.push({
        type: 'custom', xAxisIndex: xi, yAxisIndex: yi, silent: true, clip: true,
        data: up.map((v, k) => [k * STEP, lo[k], v]),
        encode: { x: 0, y: [1, 2] },
        renderItem: (p: any, api: any) => {
          const k = p.dataIndex;
          if (k >= up.length - 1) return null;
          const x0 = k * STEP;
          const x1 = (k + 1) * STEP;
          const pts = [
            api.coord([x0, lo[k]]),
            api.coord([x1, lo[k + 1]]),
            api.coord([x1, up[k + 1]]),
            api.coord([x0, up[k]]),
          ];
          return {
            type: 'polygon',
            shape: { points: pts },
            style: { fill: '#22229a', stroke: '#22229a', lineWidth: 0.6 },
          };
        },
      });
    } else {
      series.push({
        type: 'line', xAxisIndex: xi, yAxisIndex: yi,
        data: d.up.map((v, k) => [k * STEP, v]), symbol: 'none', silent: true,
        lineStyle: { color: NAVY, width: 1 },
        areaStyle: { color: NAVY, opacity: 1 },
      });
      series.push({
        type: 'line', xAxisIndex: xi, yAxisIndex: yi,
        data: d.lo.map((v, k) => [k * STEP, v]), symbol: 'none', silent: true,
        lineStyle: { color: NAVY, width: 1 },
        areaStyle: { color: NAVY, opacity: 1 },
        markLine: {
          symbol: 'none', silent: true, label: { show: false },
          lineStyle: { color: '#222', width: 1, type: 'solid' },
          data: [{ yAxis: 0 }],
        },
      });
    }
    series.push({
      type: 'custom', xAxisIndex: xi, yAxisIndex: yi, silent: true,
      data: d.spk,
      encode: { x: 0, y: [1, 2] },
      renderItem: (_p: any, api: any) => {
        const a = api.coord([api.value(0), api.value(1)]);
        const b = api.coord([api.value(0), api.value(2)]);
        return {
          type: 'line',
          shape: { x1: a[0], y1: a[1], x2: b[0], y2: b[1] },
          style: { stroke: NAVY, lineWidth: d.rms ? 1.3 : 1.6 },
        };
      },
    });

    graphic.push({
      type: 'text', silent: true, z: 10, x: L.tx, y: L.ty,
      style: {
        text: TITLES[i % 4], fontSize: 33, fontFamily: FONT, fill: '#222',
        align: 'center', verticalAlign: 'middle', textAlign: 'center', textVerticalAlign: 'middle',
      },
    });
  });

  GROUP_LETTERS.forEach((ch, g) => {
    const [cx, cy] = LETTER_POS[g];
    graphic.push({
      type: 'rect', silent: true, z: 20,
      shape: { x: cx - 25, y: cy - 21, width: 50, height: 46 },
      style: { fill: '#fff', stroke: 'none' },
    });
    graphic.push({
      type: 'text', silent: true, z: 21, x: cx, y: cy,
      style: {
        text: ch, fontSize: 68, fontWeight: 'bold', fontFamily: '"Liberation Serif", "Times New Roman", serif',
        fill: '#000', align: 'center', verticalAlign: 'middle', textAlign: 'center', textVerticalAlign: 'middle',
      },
    });
  });

  return { animation: false, backgroundColor: '#fff', grid, xAxis, yAxis, series, graphic };
}

export default function App() {
  const ref = useRef<HTMLDivElement>(null);
  useEffect(() => {
    if (!ref.current) return;
    const chart = echarts.init(ref.current, undefined, { renderer: 'svg' });
    chart.setOption(buildOption() as any);
    return () => chart.dispose();
  }, []);
  return (
    <div
      ref={ref}
      style={{ position: 'absolute', left: 0, top: 0, width: 1418, height: 1754, background: '#fff' }}
    />
  );
}
